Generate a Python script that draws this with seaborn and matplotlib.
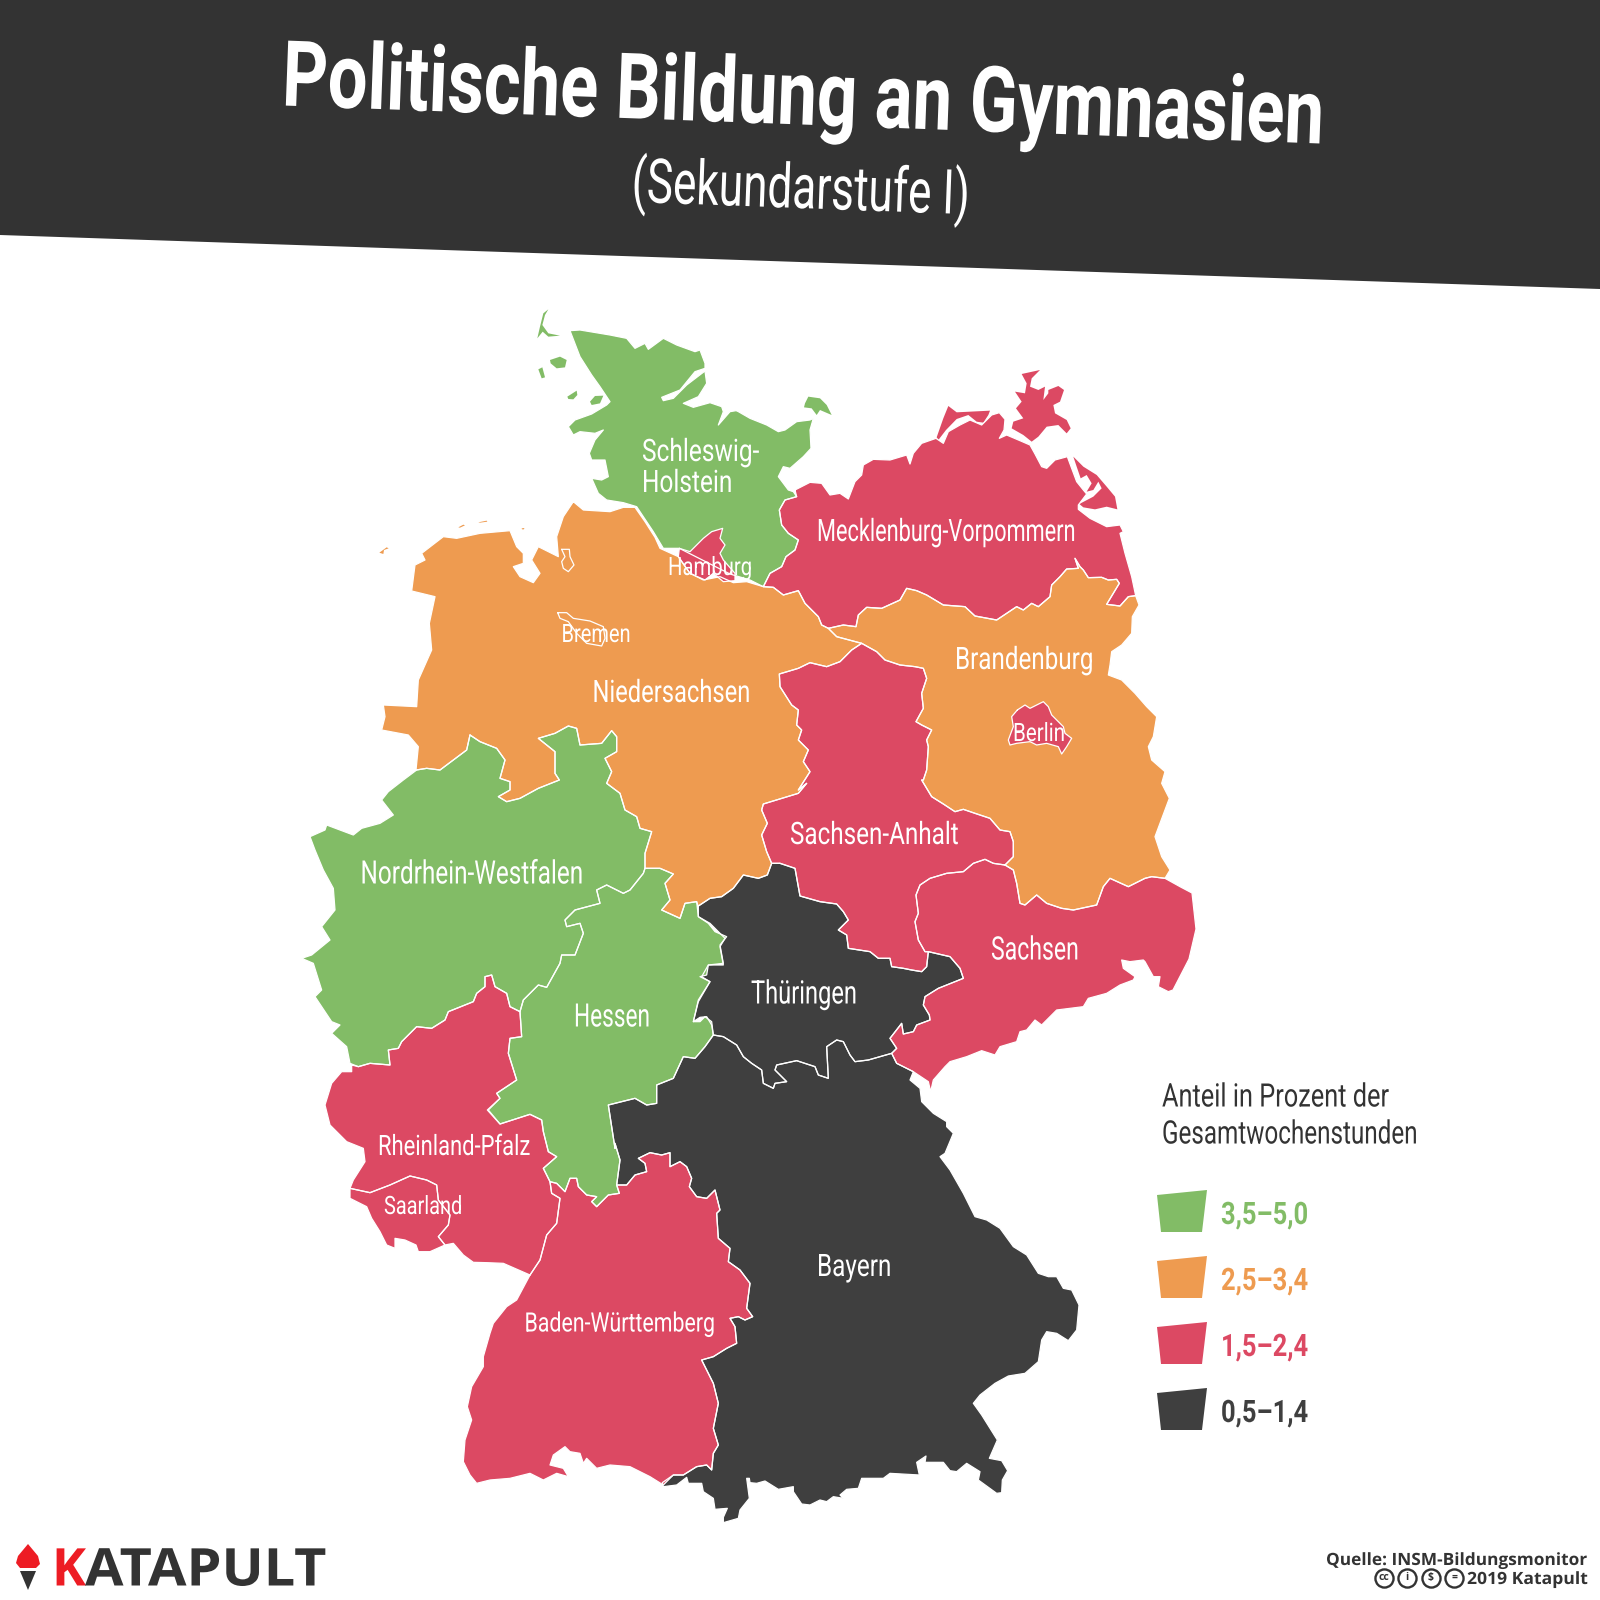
"""
Choropleth of Germany: share of civics lessons at Gymnasien by federal state.

Outlines were read off zoomed crops of the source picture, so every trace is
stored in crop coordinates (3x) together with the origin of its crop.
"""
import matplotlib
matplotlib.use("Agg")
import matplotlib.pyplot as plt
from matplotlib.patheffects import AbstractPathEffect
from matplotlib.transforms import Affine2D
import seaborn as sns

# --- Values ---
bin_labels = ["3,5–5,0", "2,5–3,4", "1,5–2,4", "0,5–1,4"]
bin_colors = ["#82BC66", "#EE9B50", "#DC4963", "#3F3F3F"]

state_bin = {
    "Niedersachsen": 1, "Bremen": 1, "Brandenburg": 1,
    "Schleswig-Holstein": 0, "Nordrhein-Westfalen": 0, "Hessen": 0,
    "Mecklenburg-Vorpommern": 2, "Hamburg": 2, "Berlin": 2, "Sachsen-Anhalt": 2,
    "Sachsen": 2, "Rheinland-Pfalz": 2, "Saarland": 2, "Baden-Württemberg": 2,
    "Thüringen": 3, "Bayern": 3,
}

# --- Crop origins of the traces below ---
NW = (290, 290)
NE = (730, 350)
W = (290, 700)
E = (680, 780)
SW = (330, 1100)
SE = (680, 1100)
S = (650, 1430)

sh_main = [(NW, [(840,122),(870,120),(960,135),(1010,145),(1035,175),(1065,160),(1075,178),(1120,145),(1160,165),
                 (1215,185),(1230,180),(1245,220),(1245,235),(1215,245),(1170,300),(1115,322),(1120,332),(1150,325),
                 (1190,285),(1245,243),(1250,280),(1225,320),(1180,340),(1210,352),(1260,338),(1295,350),(1300,365),
                 (1285,405),(1320,365),(1350,360)]),
           (NE, [(20,182),(60,205),(110,225),(145,245),(165,240),(200,215),(240,210),(250,205),(240,240),(243,295),
                 (220,320),(180,355),(160,350),(145,380),(175,420),(190,425),(200,440),(165,450),(148,480),(155,525),
                 (175,550),(205,570),(195,600),(168,620),(155,650),(120,670),(100,710),(60,690),(0,672)]),
           (NW, [(1168,775),(1120,775),(1090,725),(1060,680),(1040,650),(1000,638),(950,630),(925,610),(905,565),
                 (935,570),(955,560),(945,510),(905,510),(898,490),(915,450),(940,420),(915,430),(870,425),(850,435),
                 (835,410),(855,390),(905,372),(950,345),(960,335),(930,290),(905,255),(870,200)])]
sh_fehmarn = [(NE, [(225,160),(235,140),(270,145),(290,165),(305,195),(270,180),(260,195),(245,175),(222,172)])]
sh_sylt = [(NW, [(775,58),(760,70),(750,110),(742,145),(758,125),(775,140),(810,137),(775,130),(757,105),(765,75)])]
sh_foehr = [(NW, [(780,210),(810,200),(830,210),(825,232),(800,235),(782,220)])]
sh_amrum = [(NW, [(745,238),(757,232),(765,262),(755,265)])]
sh_pellworm = [(NW, [(832,320),(860,302),(862,315),(850,328),(835,327)])]
sh_nordstrand = [(NW, [(900,335),(915,318),(940,317),(930,340),(905,345)])]

ni_main = [(NW, [(850,635),(880,660),(960,665),(1000,652),(1035,652),(1065,695),(1095,742),(1110,775),(1165,800),
                 (1200,850),(1240,870),(1290,860),(1330,878)]),
           (NE, [(50,695),(100,710),(130,712),(160,735),(205,722),(225,760),(265,800),(275,825),(295,835),(320,860),
                 (395,880),(365,900),(330,935),(290,950),(240,938),(205,955),(148,972),(150,1010),(185,1065),(205,1080),
                 (200,1125),(215,1140),(205,1170),(235,1200),(220,1235),(240,1265),(205,1320)]),
           (E, [(380,10),(355,40),(250,72),(245,90),(262,130),(245,165),(260,215),(275,250),(262,285),(235,295),(190,285),
                (160,325),(125,350),(90,355),(55,378)]),
           (W, [(1225,620),(1220,605),(1185,610),(1170,655),(1115,630),(1140,600),(1125,550),(1150,522),(1110,505),
                (1065,505),(1065,460),(1085,395),(1050,385),(1040,350),(1005,330),(990,280),(950,250),(965,215),(945,175),
                (980,155),(980,110),(965,92),(935,130),(870,135),(860,85),(835,78),(795,100),(745,115),(795,155),(795,220),
                (808,240),(745,265),(690,295),(650,305),(625,290),(660,270),(660,245),(630,235),(645,180),(620,145),
                (570,125),(540,105),(530,150),(450,210),(410,205),(378,210),(385,140),(355,105),(275,90),(285,50),(280,15)]),
           (NW, [(380,1250),(385,1170),(425,1080),(418,1000),(435,920),(365,903),(375,825),(405,810),(395,790),(460,740),
                 (500,745),(570,730),(660,722),(680,770),(700,790),(700,820),(670,830),(690,860),(730,878),(750,850),
                 (725,810),(745,770),(805,800),(800,740),(820,680)])]
ni_frisian_a = [(NW, [(268,788),(290,772),(296,775),(282,780),(280,792)])]
ni_frisian_b = [(NW, [(505,712),(520,704),(525,706),(510,713)])]
ni_frisian_c = [(NW, [(565,697),(590,692),(592,695),(570,698)])]
ni_frisian_d = [(NW, [(695,715),(703,714),(702,718),(696,718)])]

hb_bremen = [(NW, [(803,968),(830,968),(850,985),(900,993),(940,1010),(945,1045),(935,1068),(890,1060),(860,1030),(835,995),(810,985)])]
hb_haven = [(NW, [(815,778),(838,778),(840,800),(852,825),(835,845),(820,835),(815,815),(825,800)])]

hh_main = [(NW, [(1168,775),(1200,785),(1240,745),(1265,725),(1298,715),(1290,745),(1305,765),(1290,790),(1300,810),
                 (1335,850),(1335,872),(1300,875),(1270,850),(1245,870),(1200,850),(1165,800)])]

mv_main = [(NE, [(195,420),(240,397),(275,400),(300,435),(330,430),(355,447),(375,395),(395,375),(400,345),(430,328),
                 (480,330),(530,315),(540,342),(550,310),(575,280),(618,265),(640,280),(655,245),(690,225),(720,210),
                 (755,225),(785,195),(808,188),(825,208),(822,240),(808,265),(830,255),(870,272),(900,285),(915,312),
                 (935,350),(950,355),(975,330),(1012,320),(1025,355),(1040,395),(1060,420),(1070,432),(1045,465),(1045,478),
                 (1080,505),(1130,530),(1170,525),(1180,545),(1170,550),(1185,610),(1205,680),(1217,737),(1195,740),(1170,768),
                 (1130,763),(1168,700),(1160,688),(1135,690),(1115,682),(1075,683),(1060,660),(1050,650),(1035,625),(1045,655),
                 (1010,657),(990,680),(965,705),(960,740),(925,770),(905,760),(880,780),(860,770),(800,810),(735,798),(705,770),
                 (640,765),(590,735),(560,722),(530,715),(510,750),(455,775),(410,772),(385,795),(378,830),(340,825),(295,835),
                 (275,825),(265,800),(225,760),(205,722),(160,735),(130,712),(100,710),(120,670),(155,650),(168,620),(195,600),
                 (205,570),(175,550),(155,525),(148,480),(165,450),(200,440)])]
mv_darss = [(NE, [(655,168),(680,187),(780,182),(775,195),(760,218),(740,215),(715,195),(680,207),(648,240),(625,270),(620,262),(640,205)])]
mv_ruegen = [(NE, [(855,125),(885,130),(890,100),(875,72),(930,60),(905,85),(900,110),(925,120),(945,110),(940,150),(955,130),
                   (955,120),(985,108),(1002,120),(990,155),(970,165),(975,190),(1010,210),(1022,235),(1010,250),(985,225),
                   (950,230),(925,260),(905,275),(880,255),(845,235),(850,215),(880,205),(858,175),(875,155)])]
mv_usedom = [(NE, [(1030,320),(1060,350),(1100,375),(1130,410),(1155,440),(1162,478),(1130,470),(1095,478),(1060,472),(1048,462),
                   (1090,440),(1115,415),(1105,395),(1090,420),(1070,425),(1085,400),(1070,375),(1052,385),(1040,350)])]

bb_main = [(NE, [(295,835),(340,825),(378,830),(385,795),(410,772),(455,775),(510,750),(530,715),(560,722),(590,735),(640,765),
                 (705,770),(735,798),(800,810),(860,770),(880,780),(905,760),(925,770),(960,740),(965,705),(990,680),(1010,657),
                 (1045,655),(1035,625),(1050,650),(1060,660),(1075,683),(1115,682),(1135,690),(1160,688),(1168,700),(1130,763),
                 (1170,768),(1195,740),(1217,737),(1227,765),(1207,800),(1205,850),(1175,885),(1145,905),(1140,945),(1135,975),
                 (1175,990),(1215,1030),(1250,1070),(1280,1100),(1270,1160),(1255,1190),(1265,1230),(1305,1265),(1295,1300),(1318,1345)]),
           (E, [(1425,170),(1445,230),(1470,270),(1455,295),(1415,290),(1395,295),(1345,320),(1290,295),(1270,320),(1250,375),
                (1180,390),(1145,385),(1100,370),(1070,345),(1035,375),(1020,370),(1010,310),(1000,270),(975,255),(1000,230),
                (1000,185),(990,155),(960,150),(930,115),(885,100),(850,88),(825,95),(790,72),(755,50),(725,0)]),
           (NE, [(580,1290),(590,1260),(595,1190),(590,1170),(605,1140),(575,1125),(558,1115),(580,1075),(575,1030),(590,985),
                 (580,955),(555,950),(510,945),(465,930),(440,905),(395,880),(320,860)])]

be_main = [(NE, [(862,1080),(885,1065),(900,1075),(940,1055),(955,1070),(965,1095),(1000,1130),(1005,1150),(1025,1165),(1010,1190),
                 (995,1212),(985,1190),(950,1180),(920,1185),(900,1175),(860,1180),(840,1185),(835,1170),(850,1130),(845,1100)])]

st_main = [(NE, [(395,880),(440,905),(465,930),(510,945),(555,950),(580,955),(590,985),(575,1030),(580,1075),(558,1115),(575,1125),
                 (605,1140),(590,1170),(595,1190),(590,1260),(580,1290)]),
           (E, [(725,0),(755,50),(790,72),(825,95),(850,88),(885,100),(930,115),(960,150),(990,155),(1000,185),(1000,230),(975,255),
                (940,250),(915,238),(880,250),(850,275),(800,280),(750,295),(720,315),(708,345),(715,400),(705,425),(715,480),(735,515),
                (745,515),(740,560),(725,575),(695,570),(670,565),(635,560),(630,535),(595,535),(570,515),(505,505),(500,465),(475,450),
                (505,420),(490,395),(470,372),(420,365),(360,348),(345,265),(300,250),(275,250),(260,215),(245,165),(262,130),(245,90),
                (250,72),(355,40),(380,10)]),
           (NE, [(205,1320),(240,1265),(220,1235),(235,1200),(205,1170),(215,1140),(200,1125),(205,1080),(185,1065),(150,1010),(148,972),
                 (205,955),(240,938),(290,950),(330,935),(365,900)])]

sn_main = [(E, [(975,255),(1000,270),(1010,310),(1020,370),(1035,375),(1070,345),(1100,370),(1145,385),(1180,390),(1250,375),(1270,320),
                (1290,295),(1345,320),(1395,295),(1415,290),(1455,295),(1500,320),(1536,339),(1548,447),(1527,537),(1479,630),(1465,635),
                (1435,620),(1440,590),(1420,590),(1395,545),(1390,540),(1350,545),(1325,540),(1330,565),(1365,590),(1360,600),(1320,615),
                (1280,640),(1225,655),(1210,680),(1130,690),(1085,735),(1065,720),(1040,750),(1020,755),(1010,785),(960,800),(945,825),
                (905,812),(860,830),(810,845),(795,860),(760,900),(752,935),(745,905),(700,875),(650,850),(635,820),(650,805),(630,775),
                (665,730),(670,762),(700,755),(710,735),(750,720),(748,705),(730,675),(735,650),(775,625),(850,595),(840,565),(810,530),
                (745,515),(735,515),(715,480),(705,425),(715,400),(708,345),(720,315),(750,295),(800,280),(850,275),(880,250),(915,238),(940,250)])]

th_main = [(E, [(300,250),(345,265),(360,348),(420,365),(470,372),(490,395),(505,420),(475,450),(500,465),(505,505),(570,515),(595,535),
                (630,535),(635,560),(670,565),(695,570),(725,575),(740,560),(745,515),(810,530),(840,565),(850,595),(775,625),(735,650),
                (730,675),(748,705),(750,720),(710,735),(700,755),(670,762),(665,730),(630,775),(650,805),(635,820),(600,830),(565,840),
                (525,845),(510,825),(490,785),(470,780),(440,800),(445,895),(415,885),(405,860),(350,842),(290,855),(285,870),(320,905),
                (285,910),(280,925),(250,910),(245,870),(215,850),(190,830),(170,795),(130,770),(100,765),(95,735),(80,710),(60,712),(40,725),
                (55,665),(90,605),(65,590),(85,555),(130,555),(120,500),(135,475),(90,430),(55,410),(55,378),(90,355),(125,350),(160,325),
                (190,285),(235,295),(262,285),(275,250)])]

by_main = [(E, [(100,765),(130,770),(170,795),(190,830),(215,850),(245,870),(250,910),(280,925),(285,910),(320,905),(285,870),(290,855),
                (350,842),(405,860),(415,885),(445,895),(440,800),(470,780),(490,785),(510,825),(525,845),(565,840),(600,830),(635,820),
                (650,850),(700,875),(690,900),(720,925),(725,965),(760,1000),(800,1025),(800,1040),(820,1060),(795,1120),(780,1130),(810,1170),
                (850,1240),(885,1310),(920,1320)]),
           (SE, [(960,385),(1000,440),(1040,465),(1075,520),(1105,530),(1130,530),(1150,565),(1175,570),(1197,615),(1190,690),(1165,722),
                 (1130,700),(1100,695),(1085,720),(1075,785),(1035,820),(985,828),(945,850),(900,885),(880,910),(905,945),(930,985),(952,1020)]),
           (S, [(1018,85),(1055,92),(1073,122),(1057,150),(1055,188),(1040,190),(985,150),(990,125),(950,100),(920,125),(900,122),(880,97),
                (825,97),(828,78),(800,97),(808,135),(720,130),(700,145),(635,145),(625,175),(590,178),(570,195),(580,205),(550,200),(530,215),
                (510,210),(480,225),(455,222),(430,185),(430,170),(385,178),(345,153),(320,160),(300,158),(298,145),(290,145),(298,205),(270,240),
                (265,265),(220,278),(220,262),(232,235),(195,238),(190,205),(160,185),(155,160),(115,160),(110,142),(80,165),(40,170),(37,158)]),
           (SW, [(1030,1125),(1060,1125),(1100,1100),(1130,1095),(1145,1110),(1150,1060),(1165,1035),(1150,985),(1165,910),(1150,850),(1115,780),
                 (1150,770),(1190,745),(1220,730),(1215,680),(1200,655),(1225,650),(1245,660),(1268,650),(1250,625),(1260,550),(1230,510),(1195,485),
                 (1200,445),(1165,415),(1160,340),(1170,330),(1155,270),(1130,295),(1100,290),(1078,260),(1085,235),(1070,200),(1050,185),(1020,200),
                 (1020,158),(995,165),(960,158),(925,175),(945,190),(950,215),(915,225),(890,255),(860,255),(870,180),(855,130)]),
           (W, [(975,1345),(955,1215),(995,1205),(1035,1195),(1070,1215),(1100,1210),(1100,1155),(1150,1135),(1180,1070),(1215,1075),(1245,1040),(1270,1005)])]

he_main = [(W, [(1065,505),(1110,505),(1150,522),(1125,550),(1140,600),(1115,630),(1170,655),(1185,610),(1220,605),(1225,650),(1255,670),
                (1275,695),(1310,710),(1290,735),(1300,790),(1255,795),(1250,825),(1230,830),(1260,845),(1225,900),(1210,965),(1230,965),(1245,950),
                (1265,965),(1270,1005),(1245,1040),(1215,1075),(1180,1070),(1150,1135),(1100,1155),(1100,1210),(1070,1215),(1035,1195),(995,1205),
                (955,1215),(975,1345)]),
           (SW, [(855,130),(870,180),(860,255),(868,280),(835,285),(800,320),(785,305),(800,290),(770,285),(745,260),(740,235),(720,235),(705,275),
                 (680,250),(660,245),(640,205),(680,170),(655,155),(640,95),(635,60),(600,43),(510,72),(472,30)]),
           (W, [(630,1195),(620,1180),(680,1140),(655,1060),(660,1015),(695,1010),(690,935),(700,900),(745,855),(770,862),(810,790),(815,765),(855,765),
                (880,700),(870,670),(830,680),(825,660),(855,630),(930,610),(920,570),(950,555),(1000,580),(1020,570),(1060,520)])]

nw_main = [(W, [(540,105),(570,125),(620,145),(645,180),(630,235),(660,245),(660,270),(625,290),(650,305),(690,295),(745,265),(808,240),(795,220),
                (795,155),(745,115),(795,100),(835,78),(860,85),(870,135),(935,130),(965,92),(980,110),(980,155),(945,175),(965,215),(950,250),(990,280),
                (1005,330),(1040,350),(1050,385),(1085,395),(1065,460),(1065,505),(1060,520),(1020,570),(1000,580),(950,555),(920,570),(930,610),(855,630),
                (825,660),(830,680),(870,670),(880,700),(855,765),(815,765),(810,790),(770,862),(745,855),(700,900),(690,935),(660,920),(650,880),(615,860),
                (605,825),(585,830),(585,860),(560,880),(550,905),(475,935),(465,960),(425,985),(380,980),(335,1025),(325,1045),(295,1050),(300,1095),(240,1090),
                (205,1100),(180,1090),(170,1040),(125,1000),(150,975),(125,965),(75,890),(95,870),(70,790),(35,775),(65,765),(120,720),(95,680),(135,630),(130,565),
                (100,510),(75,450),(60,410),(105,390),(110,375),(190,405),(215,385),(270,370),(310,345),(275,300),(295,275),(340,240),(380,210),(410,205),(450,210),(530,150)])]

rp_main = [(W, [(185,1095),(205,1100),(240,1090),(300,1095),(295,1050),(325,1045),(335,1025),(380,980),(425,985),(465,960),(475,935),(550,905),(560,880),
                (585,860),(585,830),(605,825),(615,860),(650,880),(660,920),(690,935),(695,1010),(660,1015),(655,1060),(680,1140),(620,1180),(630,1195),(595,1230)]),
           (SW, [(510,72),(600,43),(635,60),(640,95),(655,155),(680,170),(640,205),(660,245),(665,280),(690,295),(680,370),(650,405),(630,480),(600,525),(520,490),
                 (470,488),(430,487),(400,465),(370,430),(345,435),(325,410),(355,375),(360,345),(325,300),(320,255),(290,240),(240,228),(180,255),(120,278),(60,265),
                 (70,240),(105,185),(100,145),(50,125),(0,75)]),
           (W, [(105,1215),(125,1150),(155,1115),(185,1115)])]

sl_main = [(SW, [(60,265),(120,278),(180,255),(240,228),(290,240),(320,255),(325,300),(360,345),(355,375),(325,410),(345,435),(300,455),(265,455),(258,435),
                 (225,420),(195,415),(195,445),(170,435),(150,395),(125,355),(110,320),(60,295)])]

bw_main = [(SW, [(600,525),(630,480),(650,405),(680,370),(690,295),(665,280),(660,245),(680,250),(705,275),(720,235),(740,235),(745,260),(770,285),(800,290),
                 (785,305),(800,320),(835,285),(868,280),(860,255),(890,255),(915,225),(950,215),(945,190),(925,175),(960,158),(995,165),(1020,158),(1020,200),
                 (1050,185),(1070,200),(1085,235),(1078,260),(1100,290),(1130,295),(1155,270),(1170,330),(1160,340),(1165,415),(1200,445),(1195,485),(1230,510),
                 (1260,550),(1250,625),(1268,650),(1245,660),(1225,650),(1200,655),(1215,680),(1220,730),(1190,745),(1150,770),(1115,780),(1150,850),(1165,910),
                 (1150,985),(1165,1035),(1150,1060),(1145,1110),(1130,1095),(1100,1100),(1060,1125),(1030,1125),(1000,1155),(960,1130),(900,1100),(840,1095),(800,1105),
                 (770,1075),(760,1090),(750,1060),(720,1055),(705,1040),(670,1065),(660,1095),(700,1105),(715,1130),(680,1120),(640,1140),(600,1120),(540,1135),(480,1140),
                 (440,1150),(420,1125),(400,1085),(405,1020),(425,960),(412,920),(425,860),(460,800),(460,770),(480,700),(490,670),(530,620),(560,600)])]

# Draw order: enclaves come after the state around them.
shapes = [
    ("Niedersachsen", ni_main), ("Bremen", hb_bremen), ("Bremen", hb_haven),
    ("Schleswig-Holstein", sh_main), ("Mecklenburg-Vorpommern", mv_main),
    ("Brandenburg", bb_main), ("Sachsen-Anhalt", st_main), ("Sachsen", sn_main), ("Thüringen", th_main),
    ("Bayern", by_main), ("Hessen", he_main), ("Nordrhein-Westfalen", nw_main), ("Rheinland-Pfalz", rp_main),
    ("Saarland", sl_main), ("Baden-Württemberg", bw_main), ("Hamburg", hh_main), ("Berlin", be_main),
]
# Islands are thin, a white outline would eat them.
islands = [
    ("Niedersachsen", ni_frisian_a), ("Niedersachsen", ni_frisian_b), ("Niedersachsen", ni_frisian_c),
    ("Niedersachsen", ni_frisian_d), ("Schleswig-Holstein", sh_fehmarn), ("Schleswig-Holstein", sh_sylt),
    ("Schleswig-Holstein", sh_foehr), ("Schleswig-Holstein", sh_amrum), ("Schleswig-Holstein", sh_pellworm),
    ("Schleswig-Holstein", sh_nordstrand), ("Mecklenburg-Vorpommern", mv_darss),
    ("Mecklenburg-Vorpommern", mv_ruegen), ("Mecklenburg-Vorpommern", mv_usedom),
]

# label text, x, y of the cap middle, width in px, cap height in px, aligned
state_labels = [
    ("Schleswig-", 642, 450, 117, 22, "left"), ("Holstein", 642, 481, 90, 22, "left"),
    ("Hamburg", 710, 566, 84, 18, "center"), ("Mecklenburg-Vorpommern", 946, 530, 258, 22, "center"),
    ("Bremen", 596, 633, 69, 18, "center"), ("Niedersachsen", 671, 691, 157, 22, "center"),
    ("Brandenburg", 1024, 658, 138, 22, "center"), ("Berlin", 1039, 732, 52, 18, "center"),
    ("Nordrhein-Westfalen", 472, 872, 223, 23, "center"), ("Sachsen-Anhalt", 874, 833, 168, 22, "center"),
    ("Sachsen", 1035, 948, 88, 23, "center"), ("Thüringen", 804, 992, 106, 23, "center"),
    ("Hessen", 612, 1015, 76, 23, "center"), ("Rheinland-Pfalz", 454, 1145, 152, 20, "center"),
    ("Saarland", 423, 1205, 78, 18, "center"), ("Bayern", 854, 1265, 74, 22, "center"),
    ("Baden-Württemberg", 620, 1322, 191, 19, "center"),
]

band_x = [0, 1600, 1600, 0]
band_y = [0, 0, 289, 235]
swatch_x = [1157, 1207, 1202, 1161]
swatch_y = [1195, 1190, 1232, 1232]
legend_step = 66
cc_signs = ["cc", "i", "$", "="]
cc_x = [1384, 1407, 1431, 1454]

CONDENSED = ["Roboto", "DejaVu Sans"]
SANS = ["Open Sans", "DejaVu Sans"]
CAP_RATIO = 0.711  # cap height of Roboto / Open Sans per em
DARK = "#333333"


class Squeeze(AbstractPathEffect):
    """Scale the glyph outlines of a text along its own baseline."""

    def __init__(self, x, y, factor, rotation):
        super().__init__()
        ax_x, ax_y = ax.transData.transform((x, y))
        self.extra = (Affine2D().translate(-ax_x, -ax_y).rotate_deg(-rotation)
                      .scale(factor, 1).rotate_deg(rotation).translate(ax_x, ax_y))

    def draw_path(self, renderer, gc, tpath, affine, rgbFace=None):
        renderer.draw_path(gc, tpath, affine + self.extra, rgbFace)


def trace(parts):
    """Turn (crop origin, 3x points) parts into closed picture coordinates."""
    xs, ys = [], []
    for (x0, y0), pts in parts:
        xs += [x0 + p[0] / 3 for p in pts]
        ys += [y0 + p[1] / 3 for p in pts]
    return xs + xs[:1], ys + ys[:1]


def fitted(x, y, text, width, cap, rotation=0, **kw):
    """Text with the given cap height, squeezed to `width` px; y is the cap middle."""
    fontsize = cap / CAP_RATIO * 72 / fig.dpi
    t = ax.text(x, y + cap / 2, text, fontsize=fontsize, va="baseline", **kw)
    natural = t.get_window_extent(fig.canvas.get_renderer()).width
    t.set_path_effects([Squeeze(x, y + cap / 2, width / natural, rotation)])
    t.set_rotation(rotation)
    t.set_rotation_mode("anchor")
    return t


sns.set_theme(style="white")
palette = sns.color_palette(bin_colors)

fig = plt.figure(figsize=(16, 16), dpi=100)
ax = fig.add_axes([0, 0, 1, 1])
ax.set_xlim(0, 1600)
ax.set_ylim(1600, 0)

for state, parts in shapes:
    xs, ys = trace(parts)
    ax.fill(xs, ys, color=palette[state_bin[state]], lw=0, zorder=2)
    sns.lineplot(x=xs, y=ys, sort=False, estimator=None, color="white", lw=0.9, ax=ax, zorder=3)
for state, parts in islands:
    xs, ys = trace(parts)
    ax.fill(xs, ys, color=palette[state_bin[state]], lw=0, zorder=2)

ax.fill(band_x, band_y, color=DARK, lw=0, zorder=1)
ax.set_xlim(0, 1600)
ax.set_ylim(1600, 0)
ax.axis("off")

# --- Title ---
fitted(802, 92, "Politische Bildung an Gymnasien", 1042, 65, rotation=-2.1, color="white",
       family=CONDENSED, weight="bold", ha="center", zorder=5)
fitted(800, 186, "(Sekundarstufe I)", 338, 44, rotation=-2.1, color="white",
       family=CONDENSED, ha="center", zorder=5)

# --- State names ---
for text, x, y, width, cap, align in state_labels:
    fitted(x, y, text, width, cap, color="white", family=CONDENSED, ha=align, zorder=5)

# --- Legend ---
fitted(1162, 1095, "Anteil in Prozent der", 227, 23, color=DARK, family=CONDENSED, ha="left")
fitted(1162, 1132, "Gesamtwochenstunden", 256, 23, color=DARK, family=CONDENSED, ha="left")
for i, label in enumerate(bin_labels):
    ax.fill(swatch_x, [v + i * legend_step for v in swatch_y], color=palette[i], lw=0)
    fitted(1221, 1213 + i * legend_step, label, 87, 22, color=palette[i], family=CONDENSED,
           weight="bold", ha="left")

# --- Logo ---
ax.fill([28, 33, 38, 40, 36, 20, 16, 18, 23], [1544, 1550, 1556, 1564, 1568, 1568, 1563, 1556, 1550],
        color="#ED1C24", lw=0)
ax.fill([20, 36, 28], [1571, 1571, 1590], color=DARK, lw=0)
fitted(52, 1567, "K", 34, 37, color="#ED1C24", family=SANS, weight="bold", ha="left")
fitted(85, 1567, "ATAPULT", 241, 37, color=DARK, family=SANS, weight="bold", ha="left")

# --- Source ---
fitted(1588, 1559, "Quelle: INSM-Bildungsmonitor", 262, 12, color=DARK, family=SANS, weight="bold", ha="right")
fitted(1588, 1578, "2019 Katapult", 121, 12, color=DARK, family=SANS, weight="bold", ha="right")
for sign, x in zip(cc_signs, cc_x):
    ax.scatter([x], [1578], s=170, facecolor="white", edgecolor=DARK, linewidth=1.7, zorder=4)
    ax.text(x, 1577.5, sign, fontsize=7.5, color=DARK, family=SANS, weight="bold",
            ha="center", va="center", zorder=5)

fig.savefig("out.png", dpi=100, facecolor="white")
